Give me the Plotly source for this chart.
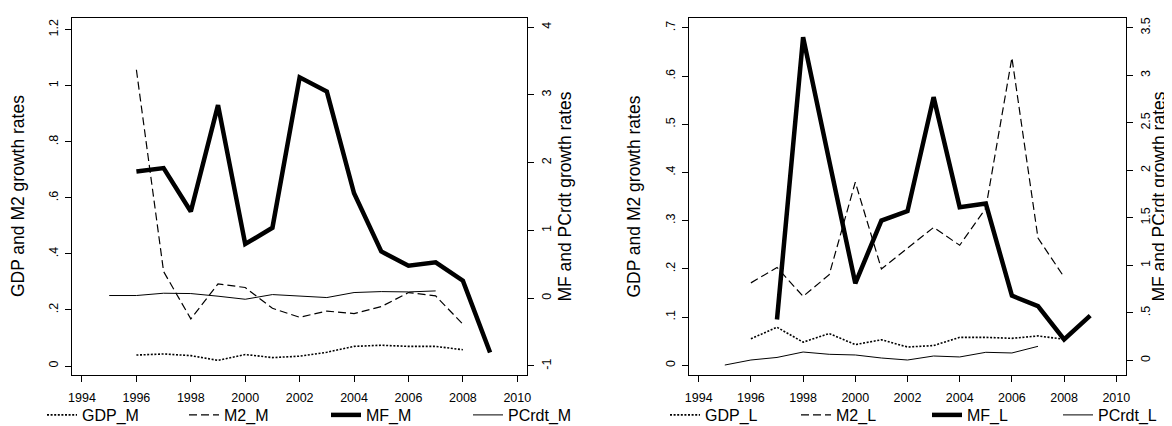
import plotly.graph_objects as go

# ---------------- data ----------------
years = list(range(1995, 2010))

gdp_m = [None, 0.039, 0.043, 0.037, 0.020, 0.041, 0.030, 0.035, 0.049, 0.070, 0.074, 0.070, 0.070, 0.058, None]
m2_m = [None, 1.057, 0.337, 0.168, 0.293, 0.280, 0.206, 0.174, 0.196, 0.187, 0.212, 0.262, 0.250, 0.149, None]
mf_m = [None, 1.87, 1.92, 1.28, 2.85, 0.80, 1.04, 3.26, 3.05, 1.55, 0.69, 0.48, 0.53, 0.26, -0.80]
pcrdt_m = [0.04, 0.04, 0.074, 0.069, 0.030, -0.015, 0.054, 0.034, 0.010, 0.084, 0.098, 0.093, 0.108, None, None]

gdp_l = [None, 0.055, 0.079, 0.048, 0.066, 0.043, 0.053, 0.038, 0.041, 0.058, 0.058, 0.056, 0.061, 0.054, None]
m2_l = [None, 0.171, 0.203, 0.143, 0.188, 0.380, 0.200, 0.243, 0.286, 0.249, 0.326, 0.638, 0.264, 0.183, None]
mf_l = [None, None, 0.43, 3.40, 2.10, 0.81, 1.47, 1.57, 2.77, 1.61, 1.65, 0.68, 0.57, 0.22, 0.47]
pcrdt_l = [-0.05, 0.003, 0.030, 0.087, 0.063, 0.056, 0.024, 0.003, 0.045, 0.035, 0.084, 0.077, 0.147, None, None]

x_tickvals = [1994, 1996, 1998, 2000, 2002, 2004, 2006, 2008, 2010]
x_ticktext = ["1994", "1996", "1998", "2000", "2002", "2004", "2006", "2008", "2010"]

ym_left_vals = [0, 0.2, 0.4, 0.6, 0.8, 1.0, 1.2]
ym_left_text = ["0", ".2", ".4", ".6", ".8", "1", "1.2"]
ym_right_vals = [-1, 0, 1, 2, 3, 4]
ym_right_text = ["-1", "0", "1", "2", "3", "4"]

yl_left_vals = [0, 0.1, 0.2, 0.3, 0.4, 0.5, 0.6, 0.7]
yl_left_text = ["0", ".1", ".2", ".3", ".4", ".5", ".6", ".7"]
yl_right_vals = [0, 0.5, 1, 1.5, 2, 2.5, 3, 3.5]
yl_right_text = ["0", ".5", "1", "1.5", "2", "2.5", "3", "3.5"]

left_title = "GDP and M2 growth rates"
right_title = "MF and PCrdt growth rates"

# ---------------- styling ----------------
FONT = "Liberation Sans, Arial, sans-serif"
W, H = 1172, 426
BLACK = "#000000"

gdp_style = dict(color=BLACK, width=1.6, dash="2px,1.6px")
m2_style = dict(color=BLACK, width=1.2, dash="8px,4px")
mf_style = dict(color=BLACK, width=4.5)
pc_style = dict(color=BLACK, width=1.0)

fig = go.Figure()

# left panel
fig.add_trace(go.Scatter(x=years, y=gdp_m, name="GDP_M", mode="lines", line=gdp_style,
                         xaxis="x", yaxis="y", legend="legend"))
fig.add_trace(go.Scatter(x=years, y=m2_m, name="M2_M", mode="lines", line=m2_style,
                         xaxis="x", yaxis="y", legend="legend"))
fig.add_trace(go.Scatter(x=years, y=mf_m, name="MF_M", mode="lines", line=mf_style,
                         xaxis="x", yaxis="y3", legend="legend"))
fig.add_trace(go.Scatter(x=years, y=pcrdt_m, name="PCrdt_M", mode="lines", line=pc_style,
                         xaxis="x", yaxis="y3", legend="legend"))

# right panel
fig.add_trace(go.Scatter(x=years, y=gdp_l, name="GDP_L", mode="lines", line=gdp_style,
                         xaxis="x2", yaxis="y2", legend="legend2"))
fig.add_trace(go.Scatter(x=years, y=m2_l, name="M2_L", mode="lines", line=m2_style,
                         xaxis="x2", yaxis="y2", legend="legend2"))
fig.add_trace(go.Scatter(x=years, y=mf_l, name="MF_L", mode="lines", line=mf_style,
                         xaxis="x2", yaxis="y4", legend="legend2"))
fig.add_trace(go.Scatter(x=years, y=pcrdt_l, name="PCrdt_L", mode="lines", line=pc_style,
                         xaxis="x2", yaxis="y4", legend="legend2"))

ydom = [1 - 367.3 / H, 1 - 10 / H]
xdom1 = [64 / W, 519.3 / W]
xdom2 = [680.7 / W, 1118.3 / W]

tickfont = dict(family=FONT, size=12.5, color=BLACK)
common_axis = dict(showline=True, linecolor=BLACK, linewidth=1, ticks="outside",
                   ticklen=6, tickwidth=1, tickcolor=BLACK, showgrid=False,
                   zeroline=False, tickfont=tickfont, fixedrange=True)

legend_font = dict(family=FONT, size=16, color=BLACK)
legend_y = (H - 407) / H

fig.update_layout(
    width=W, height=H,
    margin=dict(l=0, r=0, t=0, b=0, autoexpand=False),
    paper_bgcolor="white", plot_bgcolor="white",
    font=dict(family=FONT, color=BLACK),
    xaxis=dict(domain=xdom1, range=[1993.633, 2010.368], tickvals=x_tickvals,
               ticktext=x_ticktext, mirror=True, anchor="y", ticklabelstandoff=5,
               **common_axis),
    yaxis=dict(domain=ydom, range=[-0.0332, 1.2418], tickvals=ym_left_vals,
               ticktext=ym_left_text, tickangle=-90, anchor="x", ticklabelstandoff=2,
               **common_axis),
    yaxis3=dict(range=[-1.1374, 4.1359], tickvals=ym_right_vals, ticktext=ym_right_text,
                tickangle=-90, overlaying="y", side="right", anchor="x",
                ticklabelstandoff=2, **common_axis),
    xaxis2=dict(domain=xdom2, range=[1993.617, 2010.383], tickvals=x_tickvals,
                ticktext=x_ticktext, mirror=True, anchor="y2", ticklabelstandoff=5,
                **common_axis),
    yaxis2=dict(domain=ydom, range=[-0.0207, 0.7205], tickvals=yl_left_vals,
                ticktext=yl_left_text, tickangle=-90, anchor="x2", ticklabelstandoff=2,
                **common_axis),
    yaxis4=dict(range=[-0.158, 3.603], tickvals=yl_right_vals, ticktext=yl_right_text,
                tickangle=-90, overlaying="y2", side="right", anchor="x2",
                ticklabelstandoff=2, **common_axis),
    legend=dict(orientation="h", x=34 / W, xanchor="left", y=legend_y,
                yanchor="middle", font=legend_font, bgcolor="rgba(0,0,0,0)",
                itemwidth=30, entrywidth=97, entrywidthmode="pixels"),
    legend2=dict(orientation="h", x=657 / W, xanchor="left", y=legend_y,
                 yanchor="middle", font=legend_font, bgcolor="rgba(0,0,0,0)",
                 itemwidth=30, entrywidth=86, entrywidthmode="pixels"),
    showlegend=True,
)

title_font = dict(family=FONT, size=17.5, color=BLACK)
ymid = 1 - 188.6 / H
for xpos, txt in [(9.5 / W, left_title), (557 / W, right_title),
                  (626 / W, left_title), (1151 / W, right_title)]:
    fig.add_annotation(x=xpos, y=ymid, xref="paper", yref="paper", text=txt,
                       textangle=-90, showarrow=False, font=title_font,
                       xanchor="center", yanchor="middle")

fig.write_html("out.html")
